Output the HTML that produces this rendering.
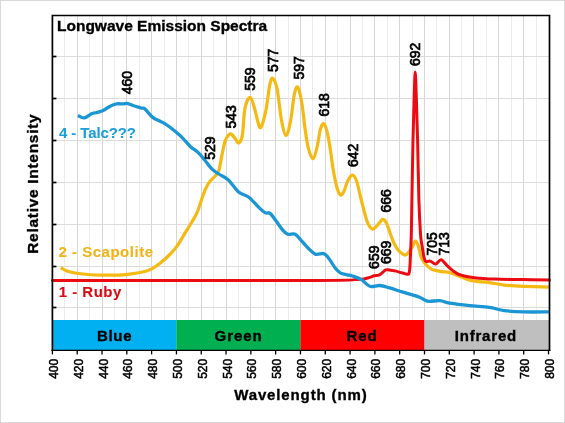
<!DOCTYPE html><html><head><meta charset="utf-8"><style>html,body{margin:0;padding:0;background:#fff;width:565px;height:423px;overflow:hidden}svg{display:block;will-change:transform}text{font-family:"Liberation Sans",sans-serif;font-weight:bold}</style></head><body>
<svg width="565" height="423" viewBox="0 0 565 423">
<rect x="0" y="0" width="565" height="423" fill="#fff"/>
<rect x="0.5" y="0.5" width="564" height="422" fill="none" stroke="#d9d9d9" stroke-width="1"/>
<line x1="64.50" y1="15.5" x2="64.50" y2="349.9" stroke="#ececec" stroke-width="1"/>
<line x1="77.50" y1="15.5" x2="77.50" y2="349.9" stroke="#d6d6d6" stroke-width="1"/>
<line x1="89.50" y1="15.5" x2="89.50" y2="349.9" stroke="#ececec" stroke-width="1"/>
<line x1="102.50" y1="15.5" x2="102.50" y2="349.9" stroke="#d6d6d6" stroke-width="1"/>
<line x1="114.50" y1="15.5" x2="114.50" y2="349.9" stroke="#ececec" stroke-width="1"/>
<line x1="126.50" y1="15.5" x2="126.50" y2="349.9" stroke="#d6d6d6" stroke-width="1"/>
<line x1="139.50" y1="15.5" x2="139.50" y2="349.9" stroke="#ececec" stroke-width="1"/>
<line x1="151.50" y1="15.5" x2="151.50" y2="349.9" stroke="#d6d6d6" stroke-width="1"/>
<line x1="164.50" y1="15.5" x2="164.50" y2="349.9" stroke="#ececec" stroke-width="1"/>
<line x1="176.50" y1="15.5" x2="176.50" y2="349.9" stroke="#d6d6d6" stroke-width="1"/>
<line x1="188.50" y1="15.5" x2="188.50" y2="349.9" stroke="#ececec" stroke-width="1"/>
<line x1="201.50" y1="15.5" x2="201.50" y2="349.9" stroke="#d6d6d6" stroke-width="1"/>
<line x1="213.50" y1="15.5" x2="213.50" y2="349.9" stroke="#ececec" stroke-width="1"/>
<line x1="226.50" y1="15.5" x2="226.50" y2="349.9" stroke="#d6d6d6" stroke-width="1"/>
<line x1="238.50" y1="15.5" x2="238.50" y2="349.9" stroke="#ececec" stroke-width="1"/>
<line x1="250.50" y1="15.5" x2="250.50" y2="349.9" stroke="#d6d6d6" stroke-width="1"/>
<line x1="263.50" y1="15.5" x2="263.50" y2="349.9" stroke="#ececec" stroke-width="1"/>
<line x1="275.50" y1="15.5" x2="275.50" y2="349.9" stroke="#d6d6d6" stroke-width="1"/>
<line x1="288.50" y1="15.5" x2="288.50" y2="349.9" stroke="#ececec" stroke-width="1"/>
<line x1="300.50" y1="15.5" x2="300.50" y2="349.9" stroke="#d6d6d6" stroke-width="1"/>
<line x1="312.50" y1="15.5" x2="312.50" y2="349.9" stroke="#ececec" stroke-width="1"/>
<line x1="325.50" y1="15.5" x2="325.50" y2="349.9" stroke="#d6d6d6" stroke-width="1"/>
<line x1="337.50" y1="15.5" x2="337.50" y2="349.9" stroke="#ececec" stroke-width="1"/>
<line x1="350.50" y1="15.5" x2="350.50" y2="349.9" stroke="#d6d6d6" stroke-width="1"/>
<line x1="362.50" y1="15.5" x2="362.50" y2="349.9" stroke="#ececec" stroke-width="1"/>
<line x1="374.50" y1="15.5" x2="374.50" y2="349.9" stroke="#d6d6d6" stroke-width="1"/>
<line x1="387.50" y1="15.5" x2="387.50" y2="349.9" stroke="#ececec" stroke-width="1"/>
<line x1="399.50" y1="15.5" x2="399.50" y2="349.9" stroke="#d6d6d6" stroke-width="1"/>
<line x1="412.50" y1="15.5" x2="412.50" y2="349.9" stroke="#ececec" stroke-width="1"/>
<line x1="424.50" y1="15.5" x2="424.50" y2="349.9" stroke="#d6d6d6" stroke-width="1"/>
<line x1="436.50" y1="15.5" x2="436.50" y2="349.9" stroke="#ececec" stroke-width="1"/>
<line x1="449.50" y1="15.5" x2="449.50" y2="349.9" stroke="#d6d6d6" stroke-width="1"/>
<line x1="461.50" y1="15.5" x2="461.50" y2="349.9" stroke="#ececec" stroke-width="1"/>
<line x1="473.50" y1="15.5" x2="473.50" y2="349.9" stroke="#d6d6d6" stroke-width="1"/>
<line x1="486.50" y1="15.5" x2="486.50" y2="349.9" stroke="#ececec" stroke-width="1"/>
<line x1="498.50" y1="15.5" x2="498.50" y2="349.9" stroke="#d6d6d6" stroke-width="1"/>
<line x1="511.50" y1="15.5" x2="511.50" y2="349.9" stroke="#ececec" stroke-width="1"/>
<line x1="523.50" y1="15.5" x2="523.50" y2="349.9" stroke="#d6d6d6" stroke-width="1"/>
<line x1="536.50" y1="15.5" x2="536.50" y2="349.9" stroke="#ececec" stroke-width="1"/>
<line x1="52.4" y1="56.50" x2="549.5" y2="56.50" stroke="#dcdcdc" stroke-width="1"/>
<line x1="52.4" y1="98.50" x2="549.5" y2="98.50" stroke="#dcdcdc" stroke-width="1"/>
<line x1="52.4" y1="140.50" x2="549.5" y2="140.50" stroke="#dcdcdc" stroke-width="1"/>
<line x1="52.4" y1="182.50" x2="549.5" y2="182.50" stroke="#dcdcdc" stroke-width="1"/>
<line x1="52.4" y1="224.50" x2="549.5" y2="224.50" stroke="#dcdcdc" stroke-width="1"/>
<line x1="52.4" y1="266.50" x2="549.5" y2="266.50" stroke="#dcdcdc" stroke-width="1"/>
<line x1="52.4" y1="307.50" x2="549.5" y2="307.50" stroke="#dcdcdc" stroke-width="1"/>
<rect x="52.40" y="320.0" width="124.03" height="30.0" fill="#00B0F0"/>
<rect x="176.43" y="320.0" width="124.03" height="30.0" fill="#00B050"/>
<rect x="300.46" y="320.0" width="124.03" height="30.0" fill="#FF0000"/>
<rect x="424.49" y="320.0" width="125.01" height="30.0" fill="#BFBFBF"/>
<text x="97.0" y="341.3" font-size="15" fill="#000" stroke="#000" stroke-width="0.35" textLength="34.5" lengthAdjust="spacing">Blue</text>
<text x="214.6" y="341.3" font-size="15" fill="#000" stroke="#000" stroke-width="0.35" textLength="47.0" lengthAdjust="spacing">Green</text>
<text x="346.6" y="341.3" font-size="15" fill="#000" stroke="#000" stroke-width="0.35" textLength="30.0" lengthAdjust="spacing">Red</text>
<text x="454.7" y="341.3" font-size="15" fill="#000" stroke="#000" stroke-width="0.35" textLength="61.5" lengthAdjust="spacing">Infrared</text>
<path d="M60.8,267.5 C61.7,268.0 63.8,269.8 66.2,270.7 C68.6,271.6 71.5,272.4 75.0,273.0 C78.5,273.6 82.4,274.1 87.4,274.5 C92.4,274.9 99.2,275.1 105.1,275.2 C111.0,275.2 117.5,275.2 122.8,274.8 C128.1,274.4 133.5,273.5 137.0,273.0 C140.5,272.5 141.6,272.2 144.0,271.6 C146.4,271.0 148.7,270.5 151.3,269.1 C153.9,267.7 157.0,265.6 159.8,263.4 C162.6,261.2 165.5,258.8 168.3,256.0 C171.1,253.2 174.0,250.3 176.8,246.4 C179.6,242.5 182.5,237.2 185.3,232.6 C188.1,228.0 191.8,222.2 193.8,218.7 C195.8,215.2 196.2,214.6 197.5,211.5 C198.8,208.4 200.1,203.8 201.4,200.0 C202.8,196.2 204.2,191.9 205.6,188.8 C207.0,185.7 208.3,183.5 209.9,181.4 C211.5,179.3 213.7,177.9 215.2,176.1 C216.7,174.3 217.7,173.9 218.8,170.7 C219.9,167.5 220.6,161.7 221.6,156.9 C222.6,152.1 223.7,145.7 224.8,142.0 C226.0,138.3 227.4,136.3 228.5,135.0 C229.6,133.7 230.0,133.4 231.2,134.0 C232.3,134.6 234.2,137.3 235.4,138.8 C236.6,140.3 237.4,143.5 238.6,143.0 C239.8,142.5 241.2,141.4 242.3,135.6 C243.4,129.8 243.7,114.4 245.0,108.1 C246.3,101.8 248.7,97.2 250.3,97.5 C252.0,97.8 253.6,105.5 254.9,109.7 C256.2,114.0 257.2,120.1 258.2,123.0 C259.2,125.9 259.6,129.2 260.9,127.3 C262.1,125.4 264.2,118.5 265.7,111.4 C267.2,104.3 268.6,90.4 269.8,84.9 C271.0,79.4 271.6,77.5 272.8,78.3 C274.1,79.1 275.9,83.0 277.3,89.9 C278.7,96.8 279.9,112.1 281.4,119.7 C282.8,127.3 284.5,135.2 286.0,135.5 C287.5,135.8 289.1,128.3 290.5,121.3 C291.9,114.2 293.3,98.8 294.6,93.2 C295.9,87.6 296.9,85.9 298.1,87.6 C299.3,89.3 300.7,96.5 301.9,103.4 C303.1,110.3 304.0,121.5 305.1,128.9 C306.2,136.3 307.0,143.1 308.3,148.1 C309.6,153.1 311.6,159.0 313.1,158.7 C314.6,158.3 316.1,151.0 317.3,146.0 C318.5,141.0 319.4,132.6 320.5,128.9 C321.6,125.2 322.6,123.4 323.7,123.8 C324.8,124.2 325.8,127.0 326.9,131.1 C328.0,135.2 329.2,142.3 330.1,148.1 C331.1,153.9 331.7,160.2 332.6,166.0 C333.5,171.8 334.7,178.3 335.7,182.7 C336.7,187.1 337.6,190.1 338.5,192.2 C339.4,194.2 340.4,195.4 341.4,195.0 C342.4,194.6 343.5,192.2 344.5,190.0 C345.5,187.8 346.2,184.0 347.5,181.5 C348.8,179.0 350.8,175.3 352.3,175.2 C353.8,175.1 355.2,177.3 356.5,180.8 C357.8,184.3 359.0,190.9 360.3,196.0 C361.6,201.1 362.8,206.5 364.1,211.1 C365.4,215.7 366.5,220.4 367.9,223.4 C369.3,226.4 371.0,228.8 372.6,229.1 C374.2,229.4 375.6,226.9 377.3,225.3 C379.0,223.7 381.1,219.8 382.6,219.4 C384.1,219.0 385.1,220.7 386.4,223.0 C387.7,225.3 388.9,230.1 390.2,233.4 C391.4,236.7 392.6,240.2 393.9,242.9 C395.1,245.6 396.3,247.7 397.7,249.5 C399.1,251.3 401.1,253.1 402.5,253.9 C403.9,254.8 404.7,255.7 406.3,254.6 C407.9,253.5 410.4,249.9 411.9,247.6 C413.4,245.3 414.2,241.3 415.3,241.0 C416.4,240.7 417.2,242.9 418.2,245.7 C419.2,248.5 420.1,254.8 421.4,258.0 C422.7,261.2 424.4,262.8 426.1,264.7 C427.8,266.6 430.2,268.4 431.8,269.4 C433.4,270.3 433.7,270.0 435.5,270.4 C437.3,270.8 440.2,271.4 442.6,271.8 C445.0,272.2 445.1,271.1 449.6,272.5 C454.1,273.9 463.0,278.4 469.6,280.1 C476.2,281.8 483.6,281.8 489.4,282.6 C495.2,283.4 498.4,284.5 504.2,285.1 C510.0,285.7 516.7,286.0 524.1,286.3 C531.5,286.6 544.7,287.0 548.8,287.1" fill="none" stroke="#F5B914" stroke-width="3.2" stroke-linejoin="round" stroke-linecap="butt"/>
<path d="M52.4,280.5 C96.5,280.5 266.2,280.7 317.0,280.5 C367.8,280.3 349.1,279.7 356.9,279.4 C364.7,279.1 361.7,279.2 363.8,278.9 C365.9,278.6 367.9,277.9 369.6,277.4 C371.3,276.9 372.7,276.1 374.2,275.7 C375.7,275.3 377.5,275.6 378.8,275.1 C380.1,274.6 381.1,273.7 382.2,272.8 C383.3,271.9 384.5,270.4 385.7,269.9 C386.9,269.4 387.4,269.7 389.1,269.9 C390.8,270.1 393.9,270.6 396.0,271.1 C398.1,271.6 399.9,272.3 401.8,272.8 C403.7,273.3 406.2,274.4 407.5,274.3 C408.8,274.2 408.9,274.6 409.3,272.3 C409.8,270.1 409.9,267.2 410.2,260.8 C410.5,254.4 411.0,244.1 411.3,234.0 C411.6,223.9 411.6,215.7 411.9,200.0 C412.2,184.3 412.6,156.7 413.0,140.0 C413.4,123.3 413.7,111.3 414.1,100.0 C414.5,88.7 414.8,72.0 415.2,72.0 C415.6,72.0 416.0,88.7 416.4,100.0 C416.8,111.3 417.2,123.3 417.6,140.0 C418.0,156.7 418.4,184.3 418.9,200.0 C419.4,215.7 420.0,226.3 420.5,234.0 C421.0,241.7 421.5,241.9 422.1,246.0 C422.7,250.1 423.6,255.9 424.3,258.5 C425.0,261.1 425.2,261.2 426.2,261.6 C427.2,262.0 428.6,260.7 430.2,261.1 C431.8,261.5 433.7,264.2 435.5,264.0 C437.3,263.8 439.2,259.5 441.1,259.7 C443.0,259.9 444.9,263.6 446.8,265.4 C448.7,267.2 450.4,268.8 452.5,270.4 C454.6,271.9 455.9,273.5 459.6,274.7 C463.3,275.9 468.7,277.0 474.5,277.7 C480.3,278.4 486.0,278.8 494.3,279.1 C502.6,279.4 514.9,279.4 524.1,279.6 C533.3,279.8 545.3,280.0 549.5,280.1" fill="none" stroke="#EA0C12" stroke-width="3.0" stroke-linejoin="round" stroke-linecap="round"/>
<path d="M77.9,115.5 C78.9,115.9 81.8,118.2 84.1,117.9 C86.4,117.6 89.4,114.7 91.5,113.8 C93.6,112.9 94.6,113.1 96.5,112.6 C98.4,112.0 100.9,111.5 103.1,110.5 C105.3,109.5 107.5,107.5 109.7,106.4 C111.9,105.3 114.2,104.3 116.4,103.9 C118.6,103.5 121.2,104.0 123.0,103.9 C124.8,103.8 125.4,103.1 127.1,103.4 C128.8,103.7 130.6,104.7 132.9,105.5 C135.2,106.3 139.2,107.4 141.2,108.0 C143.2,108.6 143.1,107.4 145.0,109.0 C146.9,110.6 150.2,115.4 152.7,117.4 C155.2,119.4 157.8,119.9 160.2,121.2 C162.6,122.5 164.4,123.3 166.9,125.0 C169.4,126.7 172.9,129.5 175.4,131.6 C177.9,133.7 179.5,134.8 182.0,137.3 C184.5,139.8 187.8,144.2 190.5,146.7 C193.2,149.2 195.7,150.2 198.0,152.4 C200.3,154.6 202.2,157.0 204.5,159.8 C206.8,162.6 209.6,166.8 212.0,169.2 C214.4,171.6 216.0,172.2 218.7,174.0 C221.4,175.8 224.8,176.7 228.1,179.7 C231.4,182.7 235.2,189.1 238.6,192.0 C242.0,194.9 245.1,194.4 248.5,197.0 C251.9,199.6 256.3,204.9 259.1,207.6 C261.9,210.2 263.6,211.8 265.5,212.9 C267.4,214.0 268.0,211.2 270.8,214.0 C273.6,216.8 279.7,226.5 282.5,229.9 C285.3,233.3 285.7,233.5 287.8,234.2 C289.9,234.9 292.9,233.0 295.2,234.2 C297.5,235.4 299.6,238.8 301.8,241.2 C304.0,243.5 306.1,246.1 308.3,248.3 C310.6,250.5 312.8,253.3 315.3,254.2 C317.9,255.1 321.4,253.0 323.6,253.6 C325.8,254.2 326.3,255.2 328.3,257.7 C330.3,260.1 333.3,265.7 335.4,268.3 C337.5,270.9 338.7,272.0 340.7,273.1 C342.7,274.2 345.1,274.3 347.2,274.8 C349.3,275.3 350.7,275.4 353.1,276.2 C355.5,277.0 358.7,278.0 361.5,279.7 C364.3,281.4 366.8,285.3 369.8,286.3 C372.8,287.3 376.4,285.2 379.7,285.5 C383.0,285.8 385.8,286.8 389.7,287.9 C393.6,289.0 397.9,290.6 402.9,292.1 C407.9,293.7 415.4,295.7 419.5,297.2 C423.6,298.7 424.0,300.6 427.4,301.2 C430.8,301.8 436.1,300.4 439.8,300.7 C443.5,301.0 444.7,302.4 449.7,303.2 C454.7,304.0 463.0,305.0 469.6,305.7 C476.2,306.4 483.6,306.6 489.4,307.4 C495.2,308.2 498.4,309.9 504.2,310.6 C510.0,311.4 516.7,311.7 524.1,311.9 C531.5,312.1 544.7,311.9 548.8,311.9" fill="none" stroke="#1996D3" stroke-width="3.3" stroke-linejoin="round" stroke-linecap="butt"/>
<path d="M52.40,350.9 L52.40,15.50 L549.50,15.50 L549.50,350.9" fill="none" stroke="#000" stroke-width="1.7" stroke-linejoin="miter"/>
<line x1="51.55" y1="350.35" x2="550.35" y2="350.35" stroke="#000" stroke-width="1.3"/>
<line x1="52.4" y1="56.50" x2="56.4" y2="56.50" stroke="#000" stroke-width="1.7"/>
<line x1="52.4" y1="98.50" x2="56.4" y2="98.50" stroke="#000" stroke-width="1.7"/>
<line x1="52.4" y1="140.50" x2="56.4" y2="140.50" stroke="#000" stroke-width="1.7"/>
<line x1="52.4" y1="182.50" x2="56.4" y2="182.50" stroke="#000" stroke-width="1.7"/>
<line x1="52.4" y1="224.50" x2="56.4" y2="224.50" stroke="#000" stroke-width="1.7"/>
<line x1="52.4" y1="266.50" x2="56.4" y2="266.50" stroke="#000" stroke-width="1.7"/>
<line x1="52.4" y1="307.50" x2="56.4" y2="307.50" stroke="#000" stroke-width="1.7"/>
<line x1="52.40" y1="349.9" x2="52.40" y2="354.4" stroke="#000" stroke-width="1.3"/>
<text transform="translate(57.90,368.8) rotate(-90)" text-anchor="middle" font-size="12" fill="#000" style="font-weight:normal" stroke="#000" stroke-width="0.5">400</text>
<line x1="77.21" y1="349.9" x2="77.21" y2="354.4" stroke="#000" stroke-width="1.3"/>
<text transform="translate(82.71,368.8) rotate(-90)" text-anchor="middle" font-size="12" fill="#000" style="font-weight:normal" stroke="#000" stroke-width="0.5">420</text>
<line x1="102.01" y1="349.9" x2="102.01" y2="354.4" stroke="#000" stroke-width="1.3"/>
<text transform="translate(107.51,368.8) rotate(-90)" text-anchor="middle" font-size="12" fill="#000" style="font-weight:normal" stroke="#000" stroke-width="0.5">440</text>
<line x1="126.82" y1="349.9" x2="126.82" y2="354.4" stroke="#000" stroke-width="1.3"/>
<text transform="translate(132.32,368.8) rotate(-90)" text-anchor="middle" font-size="12" fill="#000" style="font-weight:normal" stroke="#000" stroke-width="0.5">460</text>
<line x1="151.62" y1="349.9" x2="151.62" y2="354.4" stroke="#000" stroke-width="1.3"/>
<text transform="translate(157.12,368.8) rotate(-90)" text-anchor="middle" font-size="12" fill="#000" style="font-weight:normal" stroke="#000" stroke-width="0.5">480</text>
<line x1="176.43" y1="349.9" x2="176.43" y2="354.4" stroke="#000" stroke-width="1.3"/>
<text transform="translate(181.93,368.8) rotate(-90)" text-anchor="middle" font-size="12" fill="#000" style="font-weight:normal" stroke="#000" stroke-width="0.5">500</text>
<line x1="201.24" y1="349.9" x2="201.24" y2="354.4" stroke="#000" stroke-width="1.3"/>
<text transform="translate(206.74,368.8) rotate(-90)" text-anchor="middle" font-size="12" fill="#000" style="font-weight:normal" stroke="#000" stroke-width="0.5">520</text>
<line x1="226.04" y1="349.9" x2="226.04" y2="354.4" stroke="#000" stroke-width="1.3"/>
<text transform="translate(231.54,368.8) rotate(-90)" text-anchor="middle" font-size="12" fill="#000" style="font-weight:normal" stroke="#000" stroke-width="0.5">540</text>
<line x1="250.85" y1="349.9" x2="250.85" y2="354.4" stroke="#000" stroke-width="1.3"/>
<text transform="translate(256.35,368.8) rotate(-90)" text-anchor="middle" font-size="12" fill="#000" style="font-weight:normal" stroke="#000" stroke-width="0.5">560</text>
<line x1="275.65" y1="349.9" x2="275.65" y2="354.4" stroke="#000" stroke-width="1.3"/>
<text transform="translate(281.15,368.8) rotate(-90)" text-anchor="middle" font-size="12" fill="#000" style="font-weight:normal" stroke="#000" stroke-width="0.5">580</text>
<line x1="300.46" y1="349.9" x2="300.46" y2="354.4" stroke="#000" stroke-width="1.3"/>
<text transform="translate(305.96,368.8) rotate(-90)" text-anchor="middle" font-size="12" fill="#000" style="font-weight:normal" stroke="#000" stroke-width="0.5">600</text>
<line x1="325.27" y1="349.9" x2="325.27" y2="354.4" stroke="#000" stroke-width="1.3"/>
<text transform="translate(330.77,368.8) rotate(-90)" text-anchor="middle" font-size="12" fill="#000" style="font-weight:normal" stroke="#000" stroke-width="0.5">620</text>
<line x1="350.07" y1="349.9" x2="350.07" y2="354.4" stroke="#000" stroke-width="1.3"/>
<text transform="translate(355.57,368.8) rotate(-90)" text-anchor="middle" font-size="12" fill="#000" style="font-weight:normal" stroke="#000" stroke-width="0.5">640</text>
<line x1="374.88" y1="349.9" x2="374.88" y2="354.4" stroke="#000" stroke-width="1.3"/>
<text transform="translate(380.38,368.8) rotate(-90)" text-anchor="middle" font-size="12" fill="#000" style="font-weight:normal" stroke="#000" stroke-width="0.5">660</text>
<line x1="399.68" y1="349.9" x2="399.68" y2="354.4" stroke="#000" stroke-width="1.3"/>
<text transform="translate(405.18,368.8) rotate(-90)" text-anchor="middle" font-size="12" fill="#000" style="font-weight:normal" stroke="#000" stroke-width="0.5">680</text>
<line x1="424.49" y1="349.9" x2="424.49" y2="354.4" stroke="#000" stroke-width="1.3"/>
<text transform="translate(429.99,368.8) rotate(-90)" text-anchor="middle" font-size="12" fill="#000" style="font-weight:normal" stroke="#000" stroke-width="0.5">700</text>
<line x1="449.30" y1="349.9" x2="449.30" y2="354.4" stroke="#000" stroke-width="1.3"/>
<text transform="translate(454.80,368.8) rotate(-90)" text-anchor="middle" font-size="12" fill="#000" style="font-weight:normal" stroke="#000" stroke-width="0.5">720</text>
<line x1="474.10" y1="349.9" x2="474.10" y2="354.4" stroke="#000" stroke-width="1.3"/>
<text transform="translate(479.60,368.8) rotate(-90)" text-anchor="middle" font-size="12" fill="#000" style="font-weight:normal" stroke="#000" stroke-width="0.5">740</text>
<line x1="498.91" y1="349.9" x2="498.91" y2="354.4" stroke="#000" stroke-width="1.3"/>
<text transform="translate(504.41,368.8) rotate(-90)" text-anchor="middle" font-size="12" fill="#000" style="font-weight:normal" stroke="#000" stroke-width="0.5">760</text>
<line x1="523.71" y1="349.9" x2="523.71" y2="354.4" stroke="#000" stroke-width="1.3"/>
<text transform="translate(529.21,368.8) rotate(-90)" text-anchor="middle" font-size="12" fill="#000" style="font-weight:normal" stroke="#000" stroke-width="0.5">780</text>
<line x1="548.52" y1="349.9" x2="548.52" y2="354.4" stroke="#000" stroke-width="1.3"/>
<text transform="translate(554.02,368.8) rotate(-90)" text-anchor="middle" font-size="12" fill="#000" style="font-weight:normal" stroke="#000" stroke-width="0.5">800</text>
<text x="57.00" y="31.20" text-anchor="start" font-size="15.5" fill="#000" stroke="#000" stroke-width="0.35">Longwave Emission Spectra</text>
<text transform="translate(37.60,253.80) rotate(-90)" text-anchor="start" font-size="15.5" fill="#000" stroke="#000" stroke-width="0.35" textLength="139.5" lengthAdjust="spacing">Relative Intensity</text>
<text x="234.20" y="400.30" text-anchor="start" font-size="15" fill="#000" stroke="#000" stroke-width="0.35" textLength="132.5" lengthAdjust="spacing">Wavelength (nm)</text>
<text x="59.00" y="138.30" text-anchor="start" font-size="15" fill="#1E9ED9" stroke="#1E9ED9" stroke-width="0.1" textLength="77.0" lengthAdjust="spacing">4 - Talc???</text>
<text x="58.50" y="257.40" text-anchor="start" font-size="15" fill="#F0B419" stroke="#F0B419" stroke-width="0.1" textLength="94.5" lengthAdjust="spacing">2 - Scapolite</text>
<text x="58.80" y="296.90" text-anchor="start" font-size="15" fill="#D80C14" stroke="#D80C14" stroke-width="0.1" textLength="62.5" lengthAdjust="spacing">1 - Ruby</text>
<text transform="translate(131.7,94.2) rotate(-90)" font-size="14" fill="#000" style="font-weight:normal" stroke="#000" stroke-width="0.7">460</text>
<text transform="translate(215.2,159.8) rotate(-90)" font-size="14" fill="#000" style="font-weight:normal" stroke="#000" stroke-width="0.7">529</text>
<text transform="translate(236.0,128.5) rotate(-90)" font-size="14" fill="#000" style="font-weight:normal" stroke="#000" stroke-width="0.7">543</text>
<text transform="translate(255.3,90.8) rotate(-90)" font-size="14" fill="#000" style="font-weight:normal" stroke="#000" stroke-width="0.7">559</text>
<text transform="translate(277.5,72.0) rotate(-90)" font-size="14" fill="#000" style="font-weight:normal" stroke="#000" stroke-width="0.7">577</text>
<text transform="translate(303.6,79.5) rotate(-90)" font-size="14" fill="#000" style="font-weight:normal" stroke="#000" stroke-width="0.7">597</text>
<text transform="translate(329.2,116.6) rotate(-90)" font-size="14" fill="#000" style="font-weight:normal" stroke="#000" stroke-width="0.7">618</text>
<text transform="translate(358.0,167.0) rotate(-90)" font-size="14" fill="#000" style="font-weight:normal" stroke="#000" stroke-width="0.7">642</text>
<text transform="translate(390.9,212.5) rotate(-90)" font-size="14" fill="#000" style="font-weight:normal" stroke="#000" stroke-width="0.7">666</text>
<text transform="translate(378.5,268.9) rotate(-90)" font-size="14" fill="#000" style="font-weight:normal" stroke="#000" stroke-width="0.7">659</text>
<text transform="translate(391.0,264.0) rotate(-90)" font-size="14" fill="#000" style="font-weight:normal" stroke="#000" stroke-width="0.7">669</text>
<text transform="translate(420.1,66.1) rotate(-90)" font-size="14" fill="#000" style="font-weight:normal" stroke="#000" stroke-width="0.7">692</text>
<text transform="translate(436.5,255.5) rotate(-90)" font-size="14" fill="#000" style="font-weight:normal" stroke="#000" stroke-width="0.7">705</text>
<text transform="translate(449.4,255.5) rotate(-90)" font-size="14" fill="#000" style="font-weight:normal" stroke="#000" stroke-width="0.7">713</text>
</svg></body></html>
